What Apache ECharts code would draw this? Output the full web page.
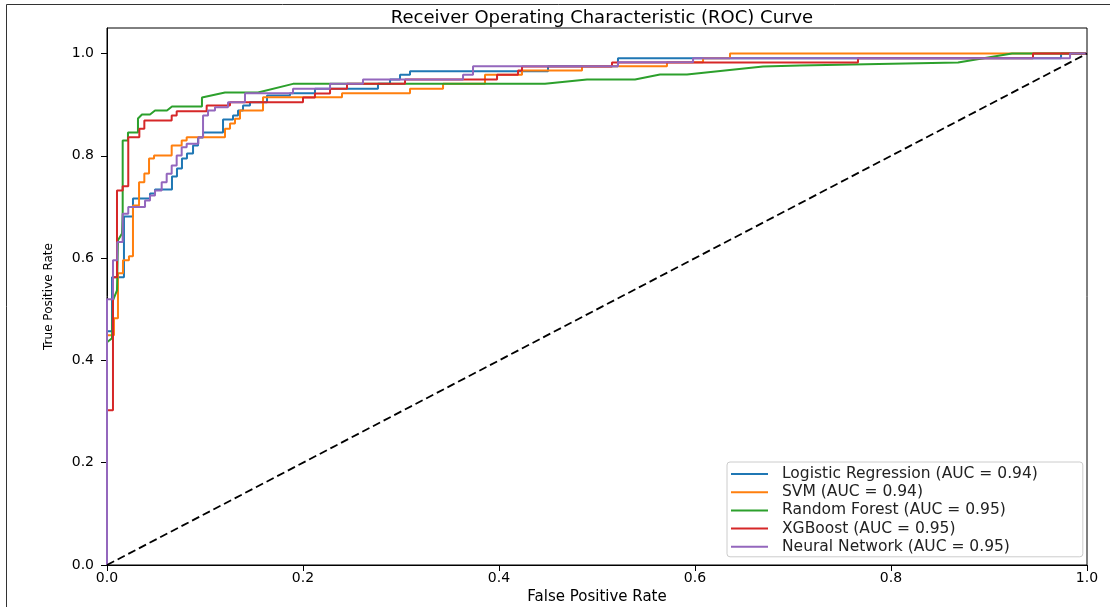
<!DOCTYPE html>
<html>
<head>
<meta charset="utf-8">
<script src="https://cdn.jsdelivr.net/npm/echarts@6/dist/echarts.min.js"></script>
<style>html,body{margin:0;padding:0;background:#fff}#c{width:1110px;height:607px}</style>
</head>
<body>
<div id="c"></div>
<script>
const seriesNames = [
  'Logistic Regression (AUC = 0.94)',
  'SVM (AUC = 0.94)',
  'Random Forest (AUC = 0.95)',
  'XGBoost (AUC = 0.95)',
  'Neural Network (AUC = 0.95)'
];
const colors = ['#1f77b4', '#ff7f0e', '#2ca02c', '#d62728', '#9467bd'];
const tickValues = [0, 0.2, 0.4, 0.6, 0.8, 1.0];

// [False Positive Rate, True Positive Rate]
const rocLogistic = [[0,0],[0,0.457],[0.0051,0.457],[0.0051,0.5625],[0.0173,0.5625],[0.0173,0.6816],[0.0265,0.6816],[0.0265,0.7168],[0.0439,0.7168],[0.0439,0.7266],[0.049,0.7266],[0.049,0.7344],[0.0663,0.7344],[0.0663,0.7598],[0.0714,0.7598],[0.0714,0.7754],[0.0765,0.7754],[0.0765,0.7949],[0.0816,0.7949],[0.0816,0.8047],[0.0878,0.8047],[0.0878,0.8203],[0.0929,0.8203],[0.0929,0.8359],[0.098,0.8359],[0.098,0.8457],[0.1184,0.8457],[0.1184,0.8711],[0.1286,0.8711],[0.1286,0.8789],[0.1337,0.8789],[0.1337,0.8887],[0.1388,0.8887],[0.1388,0.8984],[0.1459,0.8984],[0.1459,0.9049],[0.1633,0.9049],[0.1633,0.918],[0.1867,0.918],[0.1867,0.9225],[0.2122,0.9225],[0.2122,0.931],[0.2765,0.931],[0.2765,0.9408],[0.2888,0.9408],[0.2888,0.9492],[0.299,0.9492],[0.299,0.9584],[0.3092,0.9584],[0.3092,0.9655],[0.45,0.9655],[0.45,0.9752],[0.5214,0.9752],[0.5214,0.9908],[0.9735,0.9908],[0.9735,1],[1,1]];
const rocSVM = [[0,0],[0,0.4492],[0.0071,0.4492],[0.0071,0.4824],[0.0112,0.4824],[0.0112,0.5703],[0.0163,0.5703],[0.0163,0.5957],[0.0224,0.5957],[0.0224,0.6035],[0.0265,0.6035],[0.0265,0.7031],[0.0327,0.7031],[0.0327,0.7486],[0.0381,0.7486],[0.0381,0.7656],[0.0429,0.7656],[0.0429,0.7949],[0.048,0.7949],[0.048,0.8008],[0.066,0.8008],[0.066,0.8203],[0.0762,0.8203],[0.0762,0.8301],[0.0813,0.8301],[0.0813,0.8365],[0.1204,0.8365],[0.1204,0.8529],[0.1255,0.8529],[0.1255,0.8633],[0.1306,0.8633],[0.1306,0.8725],[0.1357,0.8725],[0.1357,0.8887],[0.1592,0.8887],[0.1592,0.9147],[0.2398,0.9147],[0.2398,0.9225],[0.3092,0.9225],[0.3092,0.931],[0.3429,0.931],[0.3429,0.9408],[0.3857,0.9408],[0.3857,0.9584],[0.4235,0.9584],[0.4235,0.9668],[0.4847,0.9668],[0.4847,0.9752],[0.5714,0.9752],[0.5714,0.983],[0.6082,0.983],[0.6082,0.9908],[0.6357,0.9908],[0.6357,1],[1,1]];
const rocForest = [[0,0],[0,0.4355],[0.0051,0.4434],[0.0061,0.5176],[0.0102,0.5371],[0.0112,0.6348],[0.0153,0.6484],[0.016,0.6895],[0.016,0.8301],[0.0214,0.8301],[0.0214,0.8457],[0.0316,0.8457],[0.0316,0.873],[0.0357,0.8809],[0.0439,0.8809],[0.049,0.8887],[0.0612,0.8887],[0.0663,0.8965],[0.0969,0.8965],[0.0969,0.9141],[0.1204,0.9238],[0.1541,0.9238],[0.1898,0.9408],[0.4469,0.9408],[0.4898,0.9492],[0.5388,0.9492],[0.5643,0.959],[0.5918,0.959],[0.6694,0.9746],[0.7071,0.9766],[0.8684,0.9824],[0.9235,1],[1,1]];
const rocXGB = [[0,0],[0,0.3027],[0.0061,0.3027],[0.0061,0.5625],[0.0102,0.5625],[0.0102,0.7324],[0.016,0.7324],[0.016,0.7408],[0.0217,0.7408],[0.0217,0.8365],[0.033,0.8365],[0.033,0.8529],[0.0381,0.8529],[0.0381,0.8691],[0.066,0.8691],[0.066,0.8789],[0.0711,0.8789],[0.0711,0.8873],[0.1017,0.8873],[0.1017,0.8984],[0.1255,0.8984],[0.1255,0.9049],[0.2,0.9049],[0.2,0.9141],[0.2122,0.9141],[0.2122,0.9219],[0.2276,0.9219],[0.2276,0.931],[0.2449,0.931],[0.2449,0.9408],[0.3041,0.9408],[0.3041,0.9492],[0.398,0.9492],[0.398,0.9584],[0.4194,0.9584],[0.4194,0.9668],[0.4235,0.9668],[0.4235,0.9746],[0.5153,0.9746],[0.5153,0.9824],[0.7663,0.9824],[0.7663,0.9908],[0.9449,0.9908],[0.9449,1],[1,1]];
const rocNN = [[0,0],[0,0.5195],[0.0061,0.5195],[0.0061,0.5957],[0.0105,0.5957],[0.0105,0.6314],[0.016,0.6314],[0.016,0.6869],[0.0217,0.6869],[0.0217,0.6998],[0.0388,0.6998],[0.0388,0.7129],[0.0439,0.7129],[0.0439,0.7227],[0.049,0.7227],[0.049,0.7324],[0.0558,0.7324],[0.0558,0.7486],[0.0609,0.7486],[0.0609,0.765],[0.066,0.765],[0.066,0.7813],[0.0711,0.7813],[0.0711,0.8008],[0.0762,0.8008],[0.0762,0.817],[0.0813,0.817],[0.0813,0.8236],[0.0932,0.8236],[0.0932,0.8365],[0.098,0.8365],[0.098,0.8789],[0.1031,0.8789],[0.1031,0.8887],[0.1102,0.8887],[0.1102,0.8951],[0.1235,0.8951],[0.1235,0.9049],[0.1408,0.9049],[0.1408,0.9225],[0.1898,0.9225],[0.1898,0.931],[0.2276,0.931],[0.2276,0.9408],[0.2612,0.9408],[0.2612,0.9492],[0.3633,0.9492],[0.3633,0.9584],[0.3735,0.9584],[0.3735,0.9752],[0.5214,0.9752],[0.5214,0.983],[0.598,0.983],[0.598,0.9908],[0.9827,0.9908],[0.9827,1],[1,1]];
const chanceLine = [[0,0],[1,1]];

const rocData = [rocLogistic, rocSVM, rocForest, rocXGB, rocNN];
const FONT = 'DejaVu Sans';

const chart = echarts.init(document.getElementById('c'), null, {renderer: 'canvas'});
const series = rocData.map((d, i) => ({
  name: seriesNames[i],
  type: 'line',
  data: d,
  showSymbol: false,
  symbol: 'none',
  lineStyle: {color: colors[i], width: 2},
  itemStyle: {color: colors[i]},
  animation: false,
  z: 2 + i
}));
series.push({
  name: 'chance',
  type: 'line',
  data: chanceLine,
  showSymbol: false,
  symbol: 'none',
  lineStyle: {color: '#000', width: 1.8, type: [8, 4]},
  animation: false,
  z: 10
});

chart.setOption({
  animation: false,
  backgroundColor: '#fff',
  graphic: [{
    type: 'rect',
    shape: {x: 6.5, y: 4.5, width: 1200, height: 700},
    style: {fill: 'none', stroke: '#333', lineWidth: 1},
    silent: true
  }],
  title: {
    text: 'Receiver Operating Characteristic (ROC) Curve',
    left: 597, top: 4, textAlign: 'center',
    textStyle: {fontFamily: FONT, fontSize: 18, fontWeight: 'normal', color: '#000'}
  },
  grid: {left: 107, right: 23, top: 28, bottom: 42, outerBoundsMode: 'none', containLabel: false,
         show: true, borderColor: '#000', borderWidth: 1, backgroundColor: 'transparent'},
  xAxis: {
    type: 'value', min: 0, max: 1,
    name: 'False Positive Rate', nameLocation: 'middle', nameGap: 24,
    nameTextStyle: {fontFamily: FONT, fontSize: 15, color: '#000'},
    axisLine: {show: true, onZero: false, lineStyle: {color: '#000'}},
    axisTick: {show: true, length: 6, customValues: tickValues, lineStyle: {color: '#000'}},
    axisLabel: {customValues: tickValues, fontFamily: FONT, fontSize: 14, color: '#000', margin: 6, formatter: v => v.toFixed(1)},
    splitLine: {show: false}
  },
  yAxis: {
    type: 'value', min: 0, max: 1.05,
    name: 'True Positive Rate', nameLocation: 'middle', nameGap: 52,
    nameTextStyle: {fontFamily: FONT, fontSize: 12, color: '#000'},
    axisLine: {show: true, onZero: false, lineStyle: {color: '#000'}},
    axisTick: {show: true, length: 6, customValues: tickValues, lineStyle: {color: '#000'}},
    axisLabel: {customValues: tickValues, fontFamily: FONT, fontSize: 14, color: '#000', margin: 13, formatter: v => v.toFixed(1)},
    splitLine: {show: false}
  },
  legend: {
    data: seriesNames,
    orient: 'vertical',
    left: 727, top: 462,
    padding: [4, 45, 2, 4],
    itemWidth: 37, itemHeight: 2, itemGap: 2.2,
    icon: 'rect',
    backgroundColor: '#fff',
    borderColor: '#cccccc', borderWidth: 1, borderRadius: 3,
    textStyle: {fontFamily: FONT, fontSize: 15.5, color: '#222', lineHeight: 16, padding: [0, 0, 0, 9]}
  },
  series: series
});
</script>
</body>
</html>
